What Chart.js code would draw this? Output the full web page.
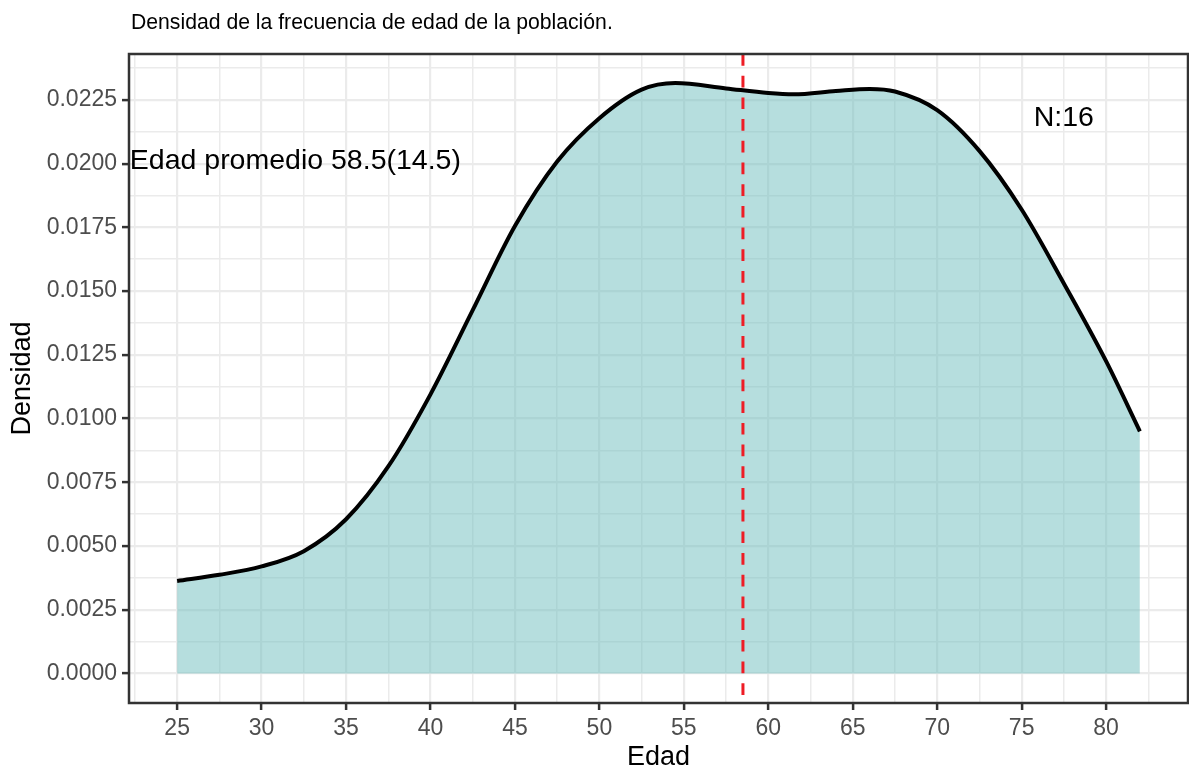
<!DOCTYPE html>
<html lang="es">
<head>
<meta charset="utf-8">
<title>Densidad de edad</title>
<script src="https://cdn.jsdelivr.net/npm/chart.js@4.4.1/dist/chart.umd.min.js"></script>
<style>
  html, body { margin: 0; padding: 0; background: #fff; }
  #wrap { position: relative; width: 1189px; height: 769px; }
  #titulo {
    position: absolute; left: 131px; top: 10px;
    font: 21.2px/24px "Liberation Sans", Arial, sans-serif; color: #000; white-space: nowrap;
  }
</style>
</head>
<body>
<div id="wrap">
  <div id="titulo">Densidad de la frecuencia de edad de la población.</div>
  <canvas id="densidadChart"></canvas>
</div>
<script>
// densidad estimada de la edad (años -> densidad)
const edades = [25, 27.5, 30, 32.5, 35, 37.5, 40, 42.5, 45, 47.5, 50, 52.5, 54.5, 57.5, 60, 61.5, 64, 66, 67.5, 70, 72.5, 75, 77.5, 80, 82];
const densidad = [0.00363, 0.00387, 0.00420, 0.00480, 0.00605, 0.00812, 0.01095, 0.01425, 0.01755, 0.02008,
                  0.02178, 0.02290, 0.02316, 0.02295, 0.02277, 0.02272, 0.02285, 0.02293, 0.02283, 0.02210,
                  0.02050, 0.01820, 0.01530, 0.01225, 0.00950];

const edadMedia = 58.5;
const edadDE = 14.5;
const nMuestra = 16;

// rango de los ejes (con el 5% de margen)
const xMin = 22.15, xMax = 84.85;
const yMin = -0.001157, yMax = 0.0243;

// donde van los textos, en unidades de los datos
const posMedia = { x: 32, y: 0.0201 };
const posN = { x: 77.5, y: 0.0218 };

const FUENTE = '"Liberation Sans", Arial, sans-serif';
Chart.defaults.font.family = FUENTE;

const esMayorX = v => Math.abs(v / 5 - Math.round(v / 5)) < 1e-6;
const esMayorY = v => Math.round(v / 0.00125) % 2 === 0;

const extras = {
  id: 'extras',
  afterDatasetsDraw(chart) {
    const { ctx, chartArea: a, scales: { x, y } } = chart;
    // linea de la edad media
    const xm = x.getPixelForValue(edadMedia);
    ctx.save();
    ctx.strokeStyle = '#ee1c25';
    ctx.lineWidth = 3;
    ctx.setLineDash([11.7, 10]);
    ctx.beginPath();
    ctx.moveTo(xm, a.top);
    ctx.lineTo(xm, a.bottom);
    ctx.stroke();
    ctx.restore();

    ctx.save();
    ctx.fillStyle = '#000';
    ctx.font = '28.5px ' + FUENTE;
    ctx.textAlign = 'center';
    ctx.textBaseline = 'middle';
    ctx.fillText('Edad promedio ' + edadMedia + '(' + edadDE + ')', x.getPixelForValue(posMedia.x), y.getPixelForValue(posMedia.y));
    ctx.fillText('N:' + nMuestra, x.getPixelForValue(posN.x), y.getPixelForValue(posN.y));
    ctx.restore();
  },
  afterDraw(chart) {
    const { ctx, chartArea: a } = chart;
    ctx.save();
    ctx.strokeStyle = '#333';
    ctx.lineWidth = 2.5;
    ctx.strokeRect(a.left, a.top, a.right - a.left, a.bottom - a.top);
    ctx.restore();
  }
};

new Chart(document.getElementById('densidadChart'), {
  type: 'line',
  data: {
    datasets: [{
      data: edades.map((e, i) => ({ x: e, y: densidad[i] })),
      borderColor: '#000',
      borderWidth: 4,
      backgroundColor: 'rgba(109,190,190,0.5)',
      fill: 'origin',
      cubicInterpolationMode: 'monotone',
      pointRadius: 0
    }]
  },
  options: {
    responsive: true,
    maintainAspectRatio: false,
    animation: false,
    layout: { padding: { top: 54, right: 1, left: 0, bottom: 0 } },
    plugins: { legend: { display: false }, tooltip: { enabled: false } },
    scales: {
      x: {
        type: 'linear',
        min: xMin,
        max: xMax,
        afterFit: s => { s.height = 66; },
        border: { display: false },
        grid: {
          color: '#EBEBEB',
          lineWidth: c => (c.tick && esMayorX(c.tick.value)) ? 2.2 : 1.5,
          tickLength: 7,
          tickColor: c => (c.tick && esMayorX(c.tick.value)) ? '#333' : 'rgba(0,0,0,0)',
          tickWidth: c => (c.tick && esMayorX(c.tick.value)) ? 2.5 : 0
        },
        ticks: {
          stepSize: 2.5,
          includeBounds: false,
          autoSkip: false,
          maxTicksLimit: 100,
          maxRotation: 0,
          padding: 5,
          color: '#4D4D4D',
          font: { size: 23 },
          callback: v => esMayorX(v) ? String(Math.round(v)) : ''
        },
        title: { display: true, text: 'Edad', color: '#000', font: { size: 27, lineHeight: 1 }, padding: { top: 0, bottom: -2 } }
      },
      y: {
        type: 'linear',
        min: yMin,
        max: yMax,
        afterFit: s => { s.width = 129; },
        border: { display: false },
        grid: {
          color: '#EBEBEB',
          lineWidth: c => (c.tick && esMayorY(c.tick.value)) ? 2.2 : 1.5,
          tickLength: 7,
          tickColor: c => (c.tick && esMayorY(c.tick.value)) ? '#333' : 'rgba(0,0,0,0)',
          tickWidth: c => (c.tick && esMayorY(c.tick.value)) ? 2.5 : 0
        },
        ticks: {
          stepSize: 0.00125,
          includeBounds: false,
          autoSkip: false,
          maxTicksLimit: 100,
          padding: 5,
          color: '#4D4D4D',
          font: { size: 23 },
          callback: v => esMayorY(v) ? v.toFixed(4) : ''
        },
        title: { display: true, text: 'Densidad', color: '#000', font: { size: 27, lineHeight: 1 }, padding: { top: 9, bottom: 8 } }
      }
    }
  },
  plugins: [extras]
});
</script>
</body>
</html>
